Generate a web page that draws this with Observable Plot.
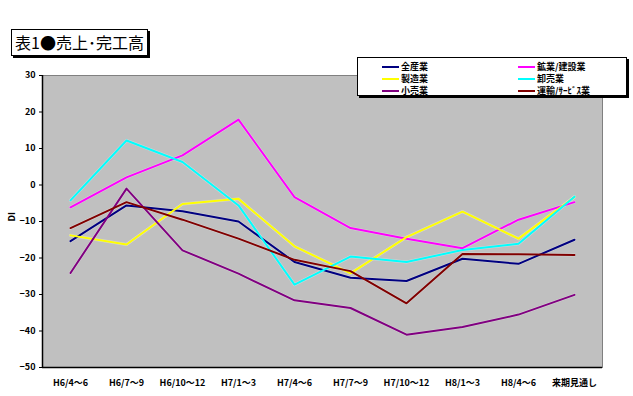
<!DOCTYPE html>
<html><head><meta charset="utf-8">
<script src="https://cdn.jsdelivr.net/npm/d3@7"></script>
<script src="https://cdn.jsdelivr.net/npm/@observablehq/plot@0.6"></script>
<style>
body{margin:0;background:#fff;font-family:"Noto Sans CJK JP",sans-serif;}
#wrap{position:relative;width:633px;height:396px;}
#title{position:absolute;left:11px;top:29px;height:25px;border:1px solid #000;box-shadow:2px 2px 0 #000;background:#fff;font-size:16px;line-height:25px;padding:0 3px;white-space:nowrap;}
#legend{position:absolute;left:357px;top:57px;width:268px;height:37px;border:1px solid #000;box-shadow:2px 2px 0 #000;background:#fff;font-size:9px;font-weight:bold;}
.li{position:absolute;height:11px;line-height:11px;white-space:nowrap;}
.li span{display:inline-block;width:17px;height:2px;vertical-align:middle;margin-right:2px;}
</style></head>
<body><div id="wrap"><div id="chart"></div><div id="title">表1●売上･完工高</div><div id="legend"></div></div>
<script>
const categories = ["H6/4～6","H6/7～9","H6/10～12","H7/1～3","H7/4～6","H7/7～9","H7/10～12","H8/1～3","H8/4～6","来期見通し"];
const seriesNames = ["全産業","鉱業/建設業","製造業","卸売業","小売業","運輸/ｻｰﾋﾞｽ業"];
const seriesColors = ["#000080","#ff00ff","#ffff00","#00ffff","#800080","#800000"];
const allIndustry = [-15.4,-5.6,-7.2,-10.0,-21.1,-25.4,-26.3,-20.2,-21.6,-15.0];
const miningConstruction = [-6.1,2.1,8.1,17.9,-3.3,-11.8,-14.7,-17.3,-9.5,-4.7];
const manufacturing = [-13.8,-16.3,-5.2,-3.8,-16.8,-24.2,-14.3,-7.3,-14.7,-3.3];
const wholesale = [-4.2,12.2,6.3,-5.6,-27.3,-19.6,-21.1,-17.8,-16.1,-3.2];
const retail = [-24.1,-1.0,-17.9,-24.3,-31.6,-33.7,-41.0,-38.9,-35.5,-30.1];
const transportService = [-11.8,-4.7,-9.5,-14.7,-20.5,-23.6,-32.4,-18.9,-19.0,-19.2];
const yTicks = [30,20,10,0,-10,-20,-30,-40,-50];

const seriesValues = [allIndustry,miningConstruction,manufacturing,wholesale,retail,transportService];
const data = [];
seriesValues.forEach((vals,si)=>vals.forEach((v,i)=>data.push({series:seriesNames[si],cat:categories[i],value:v})));

const chart = Plot.plot({
  width:633, height:396,
  marginTop:75, marginLeft:42, marginRight:31, marginBottom:29,
  style:{fontFamily:"'Noto Sans CJK JP',sans-serif",fontSize:"9px",background:"#fff",overflow:"visible"},
  x:{type:"point",domain:categories,padding:0.5,label:null},
  y:{domain:[-50,30],ticks:yTicks,label:null},
  color:{domain:seriesNames,range:seriesColors},
  marks:[
    Plot.frame({fill:"#c0c0c0",stroke:"#808080",strokeWidth:1}),
    Plot.ruleX([0],{x:()=>categories[0],dx:-28,stroke:"#000",strokeWidth:1.5}),
    Plot.ruleY([-50],{stroke:"#000",strokeWidth:1.5}),
    Plot.axisY({ticks:yTicks,tickSize:3,tickPadding:4,fontWeight:"bold",fill:"#000",label:null}),
    Plot.axisX({tickSize:0,tickPadding:12,fontWeight:"bold",fill:"#000",label:null}),
    Plot.line(data,{x:"cat",y:"value",z:"series",stroke:"#fff",strokeWidth:3,strokeOpacity:0.35}),
    Plot.line(data,{x:"cat",y:"value",z:"series",stroke:"series",strokeWidth:2}),
    Plot.text(["DI"],{frameAnchor:"left",dx:-30,rotate:-90,fontWeight:"bold",fontSize:9,fill:"#000"})
  ]
});
document.getElementById("chart").appendChild(chart);

const leg = document.getElementById("legend");
const pos = [[24,2.5],[160,2.5],[24,14.5],[160,14.5],[24,26.5],[160,26.5]];
seriesNames.forEach((n,i)=>{
  const d=document.createElement("div");d.className="li";
  d.style.left=pos[i][0]+"px";d.style.top=pos[i][1]+"px";
  d.innerHTML=`<span style="background:${seriesColors[i]}"></span>${n}`;
  leg.appendChild(d);
});
</script></body></html>
